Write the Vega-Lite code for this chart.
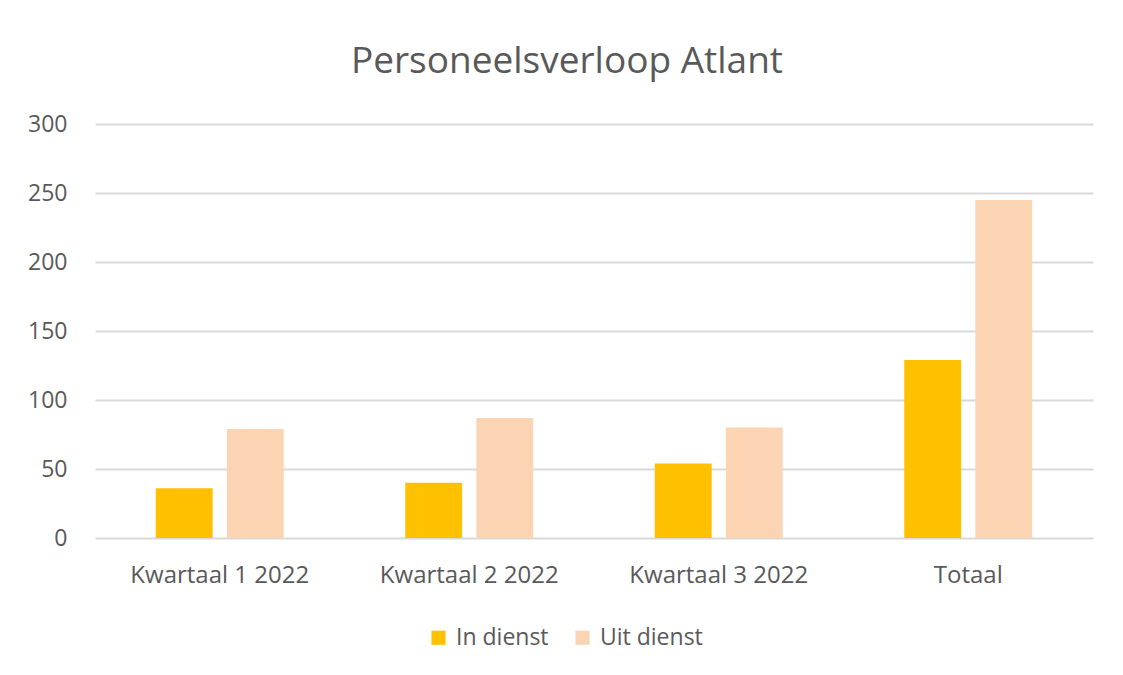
{
  "$schema": "https://vega.github.io/schema/vega-lite/v6.json",
  "autosize": {"type": "none"},
  "width": 998,
  "height": 414,
  "padding": {"left": 95, "top": 124, "right": 30, "bottom": 137},
  "background": "white",
  "title": {
    "text": "Personeelsverloop  Atlant",
    "font": "Open Sans",
    "fontSize": 37,
    "fontWeight": "normal",
    "color": "#595959",
    "anchor": "middle",
    "dx": -27,
    "offset": 32
  },
  "data": {
    "values": [
      {"kwartaal": "Kwartaal 1 2022", "type": "In dienst", "aantal": 36},
      {"kwartaal": "Kwartaal 1 2022", "type": "Uit dienst", "aantal": 79},
      {"kwartaal": "Kwartaal 2 2022", "type": "In dienst", "aantal": 40},
      {"kwartaal": "Kwartaal 2 2022", "type": "Uit dienst", "aantal": 87},
      {"kwartaal": "Kwartaal 3 2022", "type": "In dienst", "aantal": 54},
      {"kwartaal": "Kwartaal 3 2022", "type": "Uit dienst", "aantal": 80},
      {"kwartaal": "Totaal", "type": "In dienst", "aantal": 129},
      {"kwartaal": "Totaal", "type": "Uit dienst", "aantal": 245}
    ]
  },
  "mark": {"type": "bar"},
  "encoding": {
    "x": {
      "field": "kwartaal",
      "type": "nominal",
      "sort": null,
      "scale": {"paddingInner": 0.487, "paddingOuter": 0.2435},
      "axis": {
        "title": null,
        "labelAngle": 0,
        "labelFont": "Open Sans",
        "labelFontSize": 24,
        "labelColor": "#595959",
        "labelPadding": 25,
        "ticks": false,
        "domain": false,
        "grid": false
      }
    },
    "xOffset": {
      "field": "type",
      "type": "nominal",
      "scale": {"paddingInner": 0.2, "paddingOuter": 0}
    },
    "y": {
      "field": "aantal",
      "type": "quantitative",
      "scale": {"domain": [0, 300], "nice": false},
      "axis": {
        "title": null,
        "values": [0, 50, 100, 150, 200, 250, 300],
        "labelFont": "Open Sans",
        "labelFontSize": 23,
        "labelColor": "#595959",
        "labelPadding": 28,
        "ticks": false,
        "domain": false,
        "grid": true,
        "gridColor": "#d9d9d9",
        "gridWidth": 2
      }
    },
    "color": {
      "field": "type",
      "type": "nominal",
      "scale": {"domain": ["In dienst", "Uit dienst"], "range": ["#ffc000", "#fbd4b4"]},
      "legend": {
        "title": null,
        "orient": "none",
        "direction": "horizontal",
        "legendX": 332,
        "legendY": 502,
        "symbolType": "square",
        "symbolSize": 200,
        "symbolStrokeWidth": 0,
        "labelFont": "Open Sans",
        "labelFontSize": 23,
        "labelColor": "#595959",
        "labelOffset": 6,
        "columnPadding": 22
      }
    }
  },
  "config": {
    "view": {"stroke": null}
  }
}
